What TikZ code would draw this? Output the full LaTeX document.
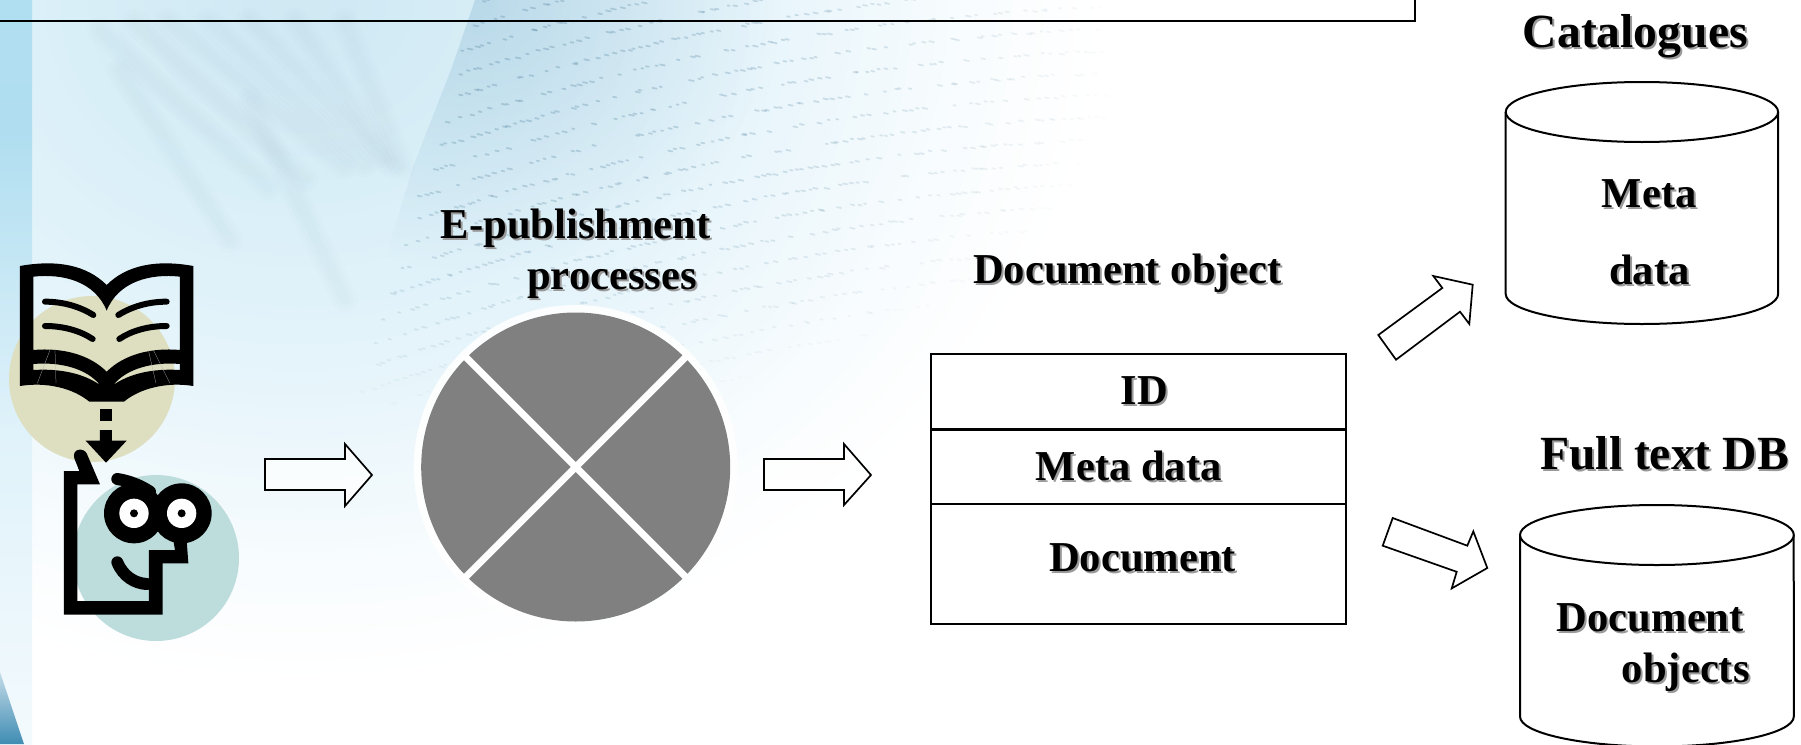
\documentclass[tikz,border=0pt]{standalone}
\usepackage{fontspec}
\setmainfont{Liberation Serif}
\usetikzlibrary{fadings}
\definecolor{shadowgray}{HTML}{9A9A9A}
\definecolor{beige}{HTML}{DEDEC0}
\definecolor{tealc}{HTML}{BDDCDC}
\definecolor{stripeblue}{HTML}{7FA8C2}
\definecolor{inkblue}{HTML}{5F8CA6}
\definecolor{wedgeblue}{HTML}{8FBBD4}
\definecolor{circgray}{HTML}{808080}
\definecolor{sa}{HTML}{CFE8F3}
\definecolor{sb}{HTML}{D9EFF8}
\definecolor{sc}{HTML}{E8F5FB}
\definecolor{sd}{HTML}{F8FCFE}
\definecolor{la}{HTML}{B5E3F7}
\definecolor{lb}{HTML}{B0DEF0}
\definecolor{lc}{HTML}{E0F2FA}
\definecolor{cornera}{HTML}{C4DCE8}
\definecolor{cornerb}{HTML}{3F8CB3}
\pgfdeclareverticalshading{stripshade}{100bp}{%
  color(0bp)=(white); color(14bp)=(white); color(32bp)=(lc!60!white); color(46bp)=(lc); color(66bp)=(lb); color(100bp)=(la)}
\tikzfading[name=wedgefade, inner color=transparent!60, outer color=transparent!100]
\newcommand{\sh}[1]{\rlap{\kern2pt\raisebox{-2pt}{\textcolor{shadowgray}{#1}}}#1}
\tikzset{
  x=1pt,y=-1pt,
  lbl/.style={anchor=base west,inner sep=0pt,font=\fontsize{42.6}{42.6}\selectfont\bfseries},
  ttl/.style={anchor=base west,inner sep=0pt,font=\fontsize{47.6}{47.6}\selectfont\bfseries},
  blockarrow/.style={draw=black,line width=1.7pt,line join=miter,fill=white,fill opacity=.75},
  boxline/.style={draw=black,line width=2pt},
  pagestroke/.style={line width=6pt,line cap=round},
  streak/.style={stripeblue,line cap=round},
}
\begin{document}
\begin{tikzpicture}
\useasboundingbox (0,0) rectangle (1801,744);
\clip (0,0) rectangle (1801,744);
\fill[white] (0,0) rectangle (1801,744);
% background: concentric ellipses for a soft glow
\foreach \ta/\tb/\ca/\cb in {1/.84/white/sd,.84/.6/sd/sc,.6/.3/sc/sb,.3/0.02/sb/sa}{
  \foreach \i in {0,...,15}{
    \pgfmathsetmacro\rr{\ta+(\tb-\ta)*\i/16}
    \pgfmathsetmacro\mixp{100*\i/16}
    \fill[\cb!\mixp!\ca] (300,0) ellipse[x radius={\rr*800}, y radius={\rr*680}];
  }
}
\begin{scope}
  \clip (475,0) -- (452,67) -- (413,167) -- (383,267) -- (355,380) -- (900,380) -- (1000,0) -- cycle;
  \fill[wedgeblue,path fading=wedgefade] (175,-270) rectangle (775,270);
\end{scope}
\foreach \a/\b/\c/\d in {100/30/268/187,135/22/305/180,168/20/344/167,208/20/365/165,249/20/383/160,295/20/392/165,344/20/402/167,120/70/230/240,250/100/345/300}{
  \foreach \w/\o in {26/.018,18/.022,10/.025}{
    \draw[streak,line width=\w pt,opacity=\o] (\a,\b) -- (\c,\d);
  }
}
\pgfmathsetseed{42}
\foreach \r in {0,...,24}{
  \foreach \i in {0,...,110}{
    \pgfmathsetmacro\xx{330+\i*7+6*rnd}
    \pgfmathsetmacro\yy{\r*22-0.3*(\xx-480)+0.00022*(\xx-480)*(\xx-480)+2*rnd}
    \pgfmathsetmacro\aa{(\xx>(475-0.3*\yy))*max(0,0.34*(1-((\xx-480)/650)^2-((\yy-60)/360)^2))*(rnd>0.3)}
    \pgfmathsetmacro\ll{2+3*rnd}
    \ifdim\aa pt>0.02pt
      \draw[inkblue,line width=1.8pt,opacity=\aa,line cap=round] (\xx,\yy) -- ++(\ll,0.2*\ll);
    \fi
  }
}
\shade[shading=stripshade] (0,0) rectangle (32,744);
\shade[top color=cornera,bottom color=cornerb] (0,672) -- (24,744) -- (0,744) -- cycle;
% top box
\draw[boxline] (0,21) -- (1415,21) -- (1415,0);
% circles behind icons
\fill[beige] (92,379) circle[radius=83];
\fill[tealc] (156,558) circle[radius=83];
% icons, in zoomed pixel units
\begin{scope}[yshift=-240pt,x=.33333pt,y=-.33333pt]
  \fill[black,even odd rule]
    (60,78) .. controls (170,58) and (260,75) .. (320,135) .. controls (380,75) and (470,58) .. (580,78)
    -- (580,438) .. controls (500,425) and (420,445) .. (372,485) -- (268,485) .. controls (220,445) and (140,425) .. (60,438) -- cycle
    (100,110) .. controls (190,100) and (285,125) .. (320,212) .. controls (355,125) and (450,100) .. (540,110)
    -- (540,330) .. controls (450,322) and (370,345) .. (320,395) .. controls (270,345) and (190,322) .. (100,330) -- cycle
    (100,372) .. controls (180,365) and (260,385) .. (300,435) .. controls (250,400) and (180,385) .. (100,390) -- cycle
    (540,372) .. controls (460,365) and (380,385) .. (340,435) .. controls (390,400) and (460,385) .. (540,390) -- cycle;
  \draw[gray!60,line width=.25pt] (150,330) -- (112,430) (165,330) -- (168,430) (445,330) -- (468,430) (460,330) -- (510,430);
  \draw[black,pagestroke] (135,185) .. controls (190,185) and (240,200) .. (280,225);
  \draw[black,pagestroke] (135,258) .. controls (190,258) and (240,272) .. (278,297);
  \draw[black,pagestroke] (500,185) .. controls (445,185) and (395,200) .. (355,225);
  \draw[black,pagestroke] (500,258) .. controls (445,258) and (395,272) .. (358,297);
  \fill[black] (300,507) rectangle (336,543);
  \fill[black] (300,570) -- (336,570) -- (336,602) -- (380,602) -- (318,668) -- (257,602) -- (300,602) -- cycle;
  \fill[black] (192,693) -- (238,693) -- (223,655) .. controls (215,625) and (250,622) .. (260,640)
    -- (300,733) -- (232,733) -- (232,1083) -- (447,1083) -- (447,930) -- (525,930) -- (520,900) -- (560,900)
    -- (565,970) -- (488,970) -- (488,1124) -- (192,1124) -- cycle;
  \fill[black] (402,820) circle[radius=90] (545,820) circle[radius=90];
  \fill[white] (402,820) circle[radius=44] (545,820) circle[radius=44];
  \fill[black] (402,820) circle[radius=12] (545,820) circle[radius=12];
  \draw[black,line width=12pt,line cap=round] (352,717) .. controls (385,722) and (420,735) .. (450,755);
  \draw[black,line width=12pt,line cap=round] (352,967) .. controls (370,1010) and (405,1030) .. (440,1032);
\end{scope}
% arrows
\path[blockarrow] (265,459) -- (345,459) -- (345,444) -- (372,475) -- (345,506) -- (345,490) -- (265,490) -- cycle;
\path[blockarrow] (764,459) -- (844,459) -- (844,444) -- (871,475) -- (844,505) -- (844,490) -- (764,490) -- cycle;
\path[blockarrow] (1378.3,335) -- (1442.3,288) -- (1433.3,276) -- (1472.7,284.7) -- (1469.3,324) -- (1460,311.7) -- (1396,359.7) -- cycle;
\path[blockarrow] (1392.7,518) -- (1467.3,545.7) -- (1473.3,531.4) -- (1487.3,568) -- (1451.7,588.4) -- (1456.7,571.8) -- (1382.7,545.7) -- cycle;
% process circle
\fill[white,opacity=.9] (575.7,467) circle[radius=162];
\begin{scope}
  \clip (575.7,467) circle[radius=162];
  \fill[circgray] (575.7,467) circle[radius=154.5];
  \draw[white,line width=7pt] (463.7,355) -- (687.7,579) (687.7,355) -- (463.7,579);
\end{scope}
% table
\draw[boxline,fill=white] (931,353.5) rectangle (1345.5,624);
\draw[boxline,line width=2.6pt] (931,429.4) -- (1345.5,429.4);
\draw[boxline] (931,504.4) -- (1345.5,504.4);
% cylinders
\draw[boxline,fill=white] (1505.7,112) -- (1505.7,294) arc[start angle=180,end angle=360,x radius=136.2pt,y radius=30pt] -- (1778,112);
\draw[boxline,fill=white] (1641.9,112) ellipse[x radius=136.2pt,y radius=30pt];
\draw[boxline,fill=white] (1520,535) -- (1520,716.5) arc[start angle=180,end angle=360,x radius=136.9pt,y radius=30pt] -- (1793.7,535);
\draw[boxline,fill=white] (1656.9,535) ellipse[x radius=136.9pt,y radius=30pt];
% labels
\node[lbl] (epub) at (440.7,238.8) {\sh{E-publishment}};
\node[lbl] (proc) at (527,289.8) {\sh{processes}};
\node[lbl] (docobj) at (973,283) {\sh{Document object}};
\node[lbl] (id) at (1120.5,404) {\sh{ID}};
\node[lbl] (meta) at (1035.7,480) {\sh{Meta data}};
\node[lbl] (doc) at (1049,571) {\sh{Document}};
\node[ttl] (cat) at (1522.7,47.4) {\sh{Catalogues}};
\node[ttl] (full) at (1540,469.8) {\sh{Full text DB}};
\node[lbl] (cmeta) at (1601.7,207.8) {\sh{Meta}};
\node[lbl] (cdata) at (1609,284.7) {\sh{data}};
\node[lbl] (fdoc) at (1556.7,631) {\sh{Document}};
\node[lbl] (fobj) at (1621.7,682.3) {\sh{objects}};
\end{tikzpicture}
\end{document}
